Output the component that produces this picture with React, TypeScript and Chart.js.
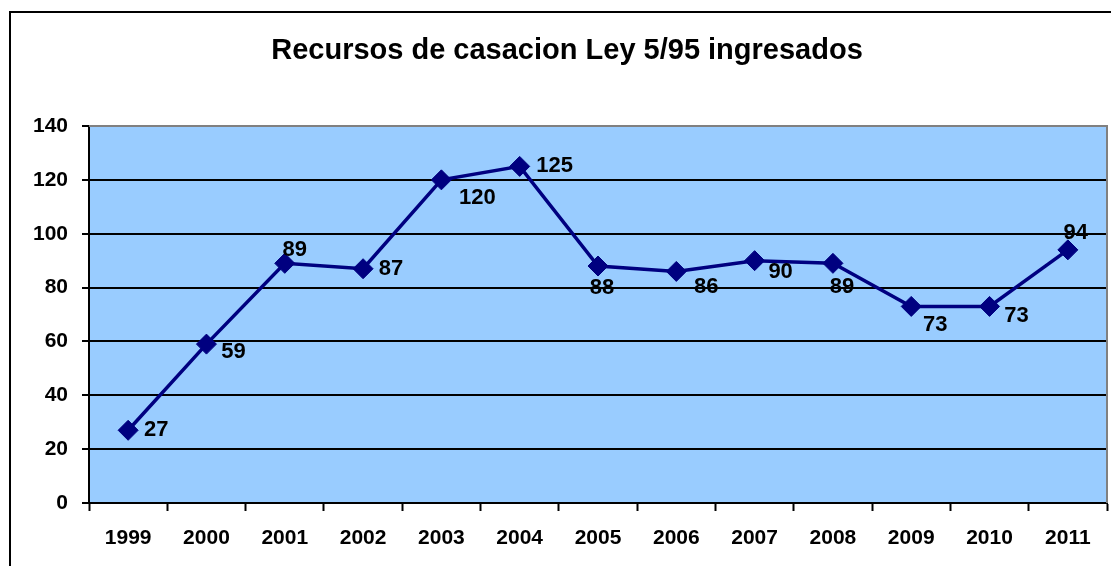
import React, { useEffect, useRef } from 'react';
import { Chart, registerables } from 'chart.js';

Chart.register(...registerables);

const chartTitle = 'Recursos de casacion Ley 5/95 ingresados';
const years = ['1999', '2000', '2001', '2002', '2003', '2004', '2005', '2006', '2007', '2008', '2009', '2010', '2011'];
const recursos = [27, 59, 89, 87, 120, 125, 88, 86, 90, 89, 73, 73, 94];
const yMin = 0;
const yMax = 140;
const yStep = 20;
// label placement relative to each marker (dx, dy in px)
const labelOffsets: [number, number][] = [
  [28, 0], [27, 8], [10, -13], [28, 0], [36, 18], [35, 0], [4, 22],
  [30, 16], [26, 11], [9, 24], [24, 19], [27, 10], [8, -17],
];

const FONT = '"Liberation Sans", Arial, sans-serif';

const decorPlugin = {
  id: 'decor',
  beforeDraw(chart: any) {
    const { ctx, chartArea } = chart;
    const { left, top, right, bottom } = chartArea;
    ctx.save();
    ctx.fillStyle = '#ffffff';
    ctx.fillRect(0, 0, chart.width, chart.height);
    ctx.strokeStyle = '#000000';
    ctx.lineWidth = 2;
    ctx.strokeRect(10, 12, chart.width + 40, chart.height + 40);
    ctx.fillStyle = '#99CCFF';
    ctx.fillRect(left, top, right - left, bottom - top);
    ctx.fillStyle = '#000000';
    ctx.font = `bold 29px ${FONT}`;
    ctx.textAlign = 'center';
    ctx.textBaseline = 'middle';
    ctx.fillText(chartTitle, 567, 51);
    ctx.restore();
  },
  beforeDatasetsDraw(chart: any) {
    const { ctx, chartArea } = chart;
    const { left, top, right, bottom } = chartArea;
    ctx.save();
    ctx.strokeStyle = '#808080';
    ctx.lineWidth = 2;
    ctx.beginPath();
    ctx.moveTo(left, top);
    ctx.lineTo(right, top);
    ctx.lineTo(right, bottom);
    ctx.stroke();
    ctx.restore();
  },
  afterDatasetsDraw(chart: any) {
    const { ctx } = chart;
    const meta = chart.getDatasetMeta(0);
    const values = chart.data.datasets[0].data as number[];
    ctx.save();
    ctx.fillStyle = '#000000';
    ctx.font = `bold 22px ${FONT}`;
    ctx.textAlign = 'center';
    ctx.textBaseline = 'middle';
    meta.data.forEach((pt: any, i: number) => {
      const [dx, dy] = labelOffsets[i] || [0, -15];
      ctx.fillText(String(values[i]), pt.x + dx, pt.y + dy);
    });
    ctx.restore();
  },
};

export default function App() {
  const canvasRef = useRef<HTMLCanvasElement | null>(null);

  useEffect(() => {
    if (!canvasRef.current) return;
    const chart = new Chart(canvasRef.current, {
      type: 'line',
      data: {
        labels: years,
        datasets: [
          {
            label: chartTitle,
            data: recursos,
            borderColor: '#000080',
            backgroundColor: '#000080',
            borderWidth: 3.5,
            tension: 0,
            pointStyle: 'rectRot',
            pointRadius: 10,
            pointBackgroundColor: '#000080',
            pointBorderColor: '#000080',
            pointBorderWidth: 1,
            clip: false,
          },
        ],
      },
      options: {
        responsive: false,
        animation: false,
        layout: { autoPadding: false, padding: { top: 126, right: 4, left: 0, bottom: 0 } },
        plugins: {
          legend: { display: false },
          title: { display: false },
          tooltip: { enabled: false },
        },
        scales: {
          x: {
            type: 'category',
            offset: true,
            afterFit(scale: any) {
              scale.height = 63;
              scale.paddingLeft = 0;
              scale.paddingRight = 0;
            },
            grid: {
              offset: true,
              drawOnChartArea: false,
              drawTicks: true,
              tickLength: 8,
              tickColor: '#000000',
              tickWidth: 2,
              color: '#000000',
            },
            border: { display: true, color: '#000000', width: 2 },
            ticks: {
              color: '#000000',
              padding: 15,
              maxRotation: 0,
              autoSkip: false,
              font: { family: FONT, size: 21, weight: 'bold' },
            },
          },
          y: {
            min: yMin,
            max: yMax,
            afterFit(scale: any) {
              scale.width = 89;
            },
            grid: {
              color: (c: any) => (c.tick && c.tick.value === yMax ? '#808080' : '#000000'),
              lineWidth: 2,
              tickLength: 7,
              tickColor: '#000000',
              tickWidth: 2,
            },
            border: { display: true, color: '#000000', width: 2 },
            ticks: {
              stepSize: yStep,
              color: '#000000',
              padding: 14,
              font: { family: FONT, size: 21, weight: 'bold' },
            },
          },
        },
      },
      plugins: [decorPlugin],
    } as any);
    return () => chart.destroy();
  }, []);

  return (
    <div style={{ position: 'absolute', left: 0, top: 0, width: 1111, height: 566, background: '#fff' }}>
      <canvas ref={canvasRef} width={1111} height={566} style={{ display: 'block' }} />
    </div>
  );
}
